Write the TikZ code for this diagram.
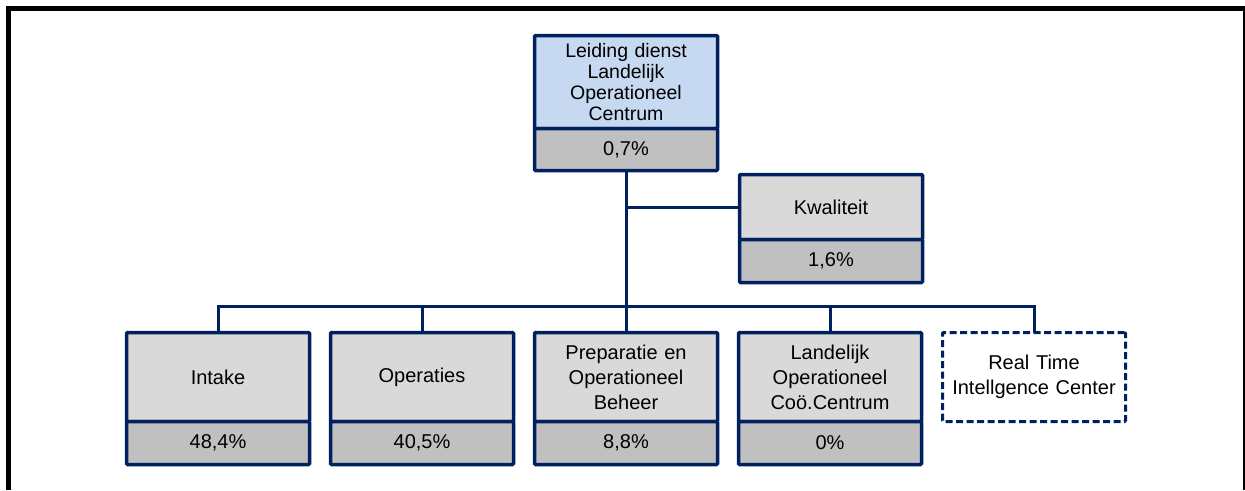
\documentclass[tikz,border=0pt]{standalone}
\usepackage{fontspec}
\setmainfont{Liberation Sans}
\usetikzlibrary{positioning}

\definecolor{navy}{RGB}{0,32,96}
\definecolor{leadblue}{RGB}{198,217,241}
\definecolor{unitgray}{RGB}{217,217,217}
\definecolor{sharegray}{RGB}{192,192,192}

\begin{document}
\begin{tikzpicture}[x=1pt, y=-1pt,
    unit/.style={rectangle, draw=navy, line width=3.5pt, fill=unitgray, rounded corners=1pt, outer sep=0pt, inner sep=0pt, text width=180pt, align=center, minimum width=183pt, minimum height=89pt, font=\fontsize{20}{25}\selectfont},
    share/.style={unit, fill=sharegray, minimum height=43pt},
    planned/.style={unit, fill=white, line width=3pt, dash pattern=on 7pt off 3.5pt},
    link/.style={draw=navy, line width=3pt}
]
    \useasboundingbox (0,0) rectangle (1245,490);
    \draw[line width=5pt] (8.5,490) -- (8.5,8.5) -- (1245,8.5);
    \draw[line width=2.5pt] (1243.8,8.5) -- (1243.8,490);

    \node[unit, fill=leadblue, minimum height=93pt, anchor=north, font=\fontsize{19.5}{21}\selectfont] (lead) at (626,35.5) {Leiding dienst\\ Landelijk\\ Operationeel\\ Centrum};
    \node[share, below=0pt of lead, minimum height=42pt] (leadp) {0,7\%};

    \node[unit, minimum height=65pt, anchor=north] (kwal) at (831,174.5) {Kwaliteit};
    \node[share, below=0pt of kwal] (kwalp) {1,6\%};

    \node[unit, anchor=north] (intake) at (218,332.5) {Intake};
    \node[share, below=0pt of intake] (intakep) {48,4\%};
    \node[unit, right=21pt of intake] (operaties) {Operaties};
    \node[share, below=0pt of operaties] (operatiesp) {40,5\%};
    \node[unit, right=21pt of operaties] (beheer) {Preparatie en\\ Operationeel\\ Beheer};
    \node[share, below=0pt of beheer] (beheerp) {8,8\%};
    \node[unit, right=21pt of beheer] (locc) {Landelijk\\ Operationeel\\ Coö.Centrum};
    \node[share, below=0pt of locc] (loccp) {0\%};
    \node[unit, planned, right=21pt of locc] (rtic) {Real Time\\ Intellgence Center};

    \coordinate (bus) at (626,306);
    \draw[link] (leadp.south) -- (bus);
    \draw[link] (kwal.west) -- (kwal.west -| bus);
    \draw[link] (intake.north) -- (intake.north |- bus) -- (rtic.north |- bus) -- (rtic.north);
    \foreach \n in {operaties, beheer, locc}
        \draw[link] (\n.north) -- (\n.north |- bus);
\end{tikzpicture}
\end{document}
